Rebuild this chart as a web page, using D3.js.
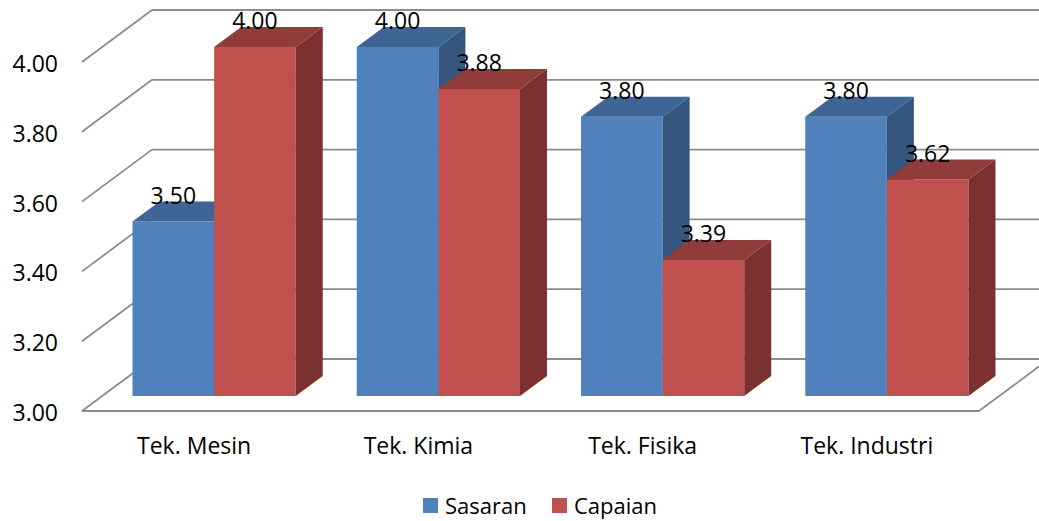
<!DOCTYPE html>
<html>
<head>
<meta charset="utf-8">
<script src="https://cdn.jsdelivr.net/npm/d3@7"></script>
<style>
  html, body { margin: 0; padding: 0; background: #ffffff; }
  svg { display: block; font-family: "Open Sans", "Noto Sans", sans-serif; }
</style>
</head>
<body>
<svg id="chart" width="1039" height="521"></svg>
<script>
// ---- data ----
const categories = ["Tek. Mesin", "Tek. Kimia", "Tek. Fisika", "Tek. Industri"];
const seriesNames = ["Sasaran", "Capaian"];
const sasaran = [3.50, 4.00, 3.80, 3.80];
const capaian = [4.00, 3.88, 3.39, 3.62];
const tickValues = [3.00, 3.20, 3.40, 3.60, 3.80, 4.00];

// ---- styling / geometry ----
const colors = {
  Sasaran: { front: "#4F81BD", top: "#3E6593", side: "#34567F" },
  Capaian: { front: "#C0504D", top: "#913C3A", side: "#7C3130" }
};
const gridColor = "#8c8c8c";
const fontSize = 23;
const wall = { dx: 70, dy: -52 };      // depth of back wall
const barOff = { dx: 20, dy: -15 };    // bar front plane offset
const barDepth = { dx: 27, dy: -20 };  // bar depth

const svg = d3.select("#chart");
const y = d3.scaleLinear().domain([3, 4]).range([411, 62]);
const x0 = d3.scaleBand().domain(categories).range([82, 979]).padding(0);
const x1 = d3.scaleBand().domain(seriesNames).range([0, x0.bandwidth()]).paddingInner(0).paddingOuter(0.374);

const data = categories.map((c, i) => ({ cat: c, Sasaran: sasaran[i], Capaian: capaian[i] }));

// ---- back wall gridlines and left diagonals ----
const grid = svg.append("g").attr("stroke", gridColor).attr("stroke-width", 1.8).attr("fill", "none");
const [xl, xr] = x0.range();
tickValues.forEach(t => {
  const yy = y(t);
  grid.append("line").attr("x1", xl + wall.dx).attr("y1", yy + wall.dy)
    .attr("x2", xr + wall.dx).attr("y2", yy + wall.dy);
  grid.append("line").attr("x1", xl).attr("y1", yy)
    .attr("x2", xl + wall.dx).attr("y2", yy + wall.dy);
});
// floor front edge and right edge
grid.append("line").attr("x1", xl).attr("y1", y(3)).attr("x2", xr).attr("y2", y(3));
grid.append("line").attr("x1", xr).attr("y1", y(3)).attr("x2", xr + wall.dx).attr("y2", y(3) + wall.dy);

// ---- axis labels ----
svg.append("g").selectAll("text").data(tickValues).join("text")
  .attr("x", 58).attr("y", d => y(d) + 1)
  .attr("text-anchor", "end").attr("dominant-baseline", "central")
  .attr("font-size", fontSize).attr("fill", "#000")
  .text(d => d3.format(".2f")(d));

// ---- bars ----
const bars = svg.append("g");
data.forEach(d => {
  seriesNames.forEach(s => {
    const v = d[s];
    const xa = x0(d.cat) + x1(s) + barOff.dx;
    const xb = xa + x1.bandwidth();
    const yt = y(v) + barOff.dy;
    const yb = y(3) + barOff.dy;
    const c = colors[s];
    const pt = (px, py) => px + "," + py;
    // front
    bars.append("polygon").attr("fill", c.front)
      .attr("points", [pt(xa, yt), pt(xb, yt), pt(xb, yb), pt(xa, yb)].join(" "));
    // top
    bars.append("polygon").attr("fill", c.top)
      .attr("points", [pt(xa, yt), pt(xb, yt), pt(xb + barDepth.dx, yt + barDepth.dy), pt(xa + barDepth.dx, yt + barDepth.dy)].join(" "));
    // side
    bars.append("polygon").attr("fill", c.side)
      .attr("points", [pt(xb, yt), pt(xb + barDepth.dx, yt + barDepth.dy), pt(xb + barDepth.dx, yb + barDepth.dy), pt(xb, yb)].join(" "));
  });
});

// ---- value labels ----
const labels = svg.append("g");
data.forEach(d => {
  seriesNames.forEach(s => {
    const v = d[s];
    const xc = x0(d.cat) + x1(s) + barOff.dx + x1.bandwidth() / 2;
    labels.append("text")
      .attr("x", xc).attr("y", y(v) + barOff.dy - 27)
      .attr("text-anchor", "middle").attr("dominant-baseline", "central")
      .attr("font-size", fontSize).attr("fill", "#000")
      .text(d3.format(".2f")(v));
  });
});

// ---- category labels ----
svg.append("g").selectAll("text").data(categories).join("text")
  .attr("x", d => x0(d) + x0.bandwidth() / 2).attr("y", 445)
  .attr("text-anchor", "middle").attr("dominant-baseline", "central")
  .attr("font-size", fontSize).attr("fill", "#000")
  .text(d => d);

// ---- legend ----
const legendItems = [
  { name: "Sasaran", x: 423 },
  { name: "Capaian", x: 552 }
];
const lg = svg.append("g");
legendItems.forEach(li => {
  lg.append("rect").attr("x", li.x).attr("y", 498).attr("width", 15).attr("height", 15)
    .attr("fill", colors[li.name].front);
  lg.append("text").attr("x", li.x + 22).attr("y", 505)
    .attr("dominant-baseline", "central").attr("font-size", 22).attr("fill", "#000")
    .text(li.name);
});
</script>
</body>
</html>
